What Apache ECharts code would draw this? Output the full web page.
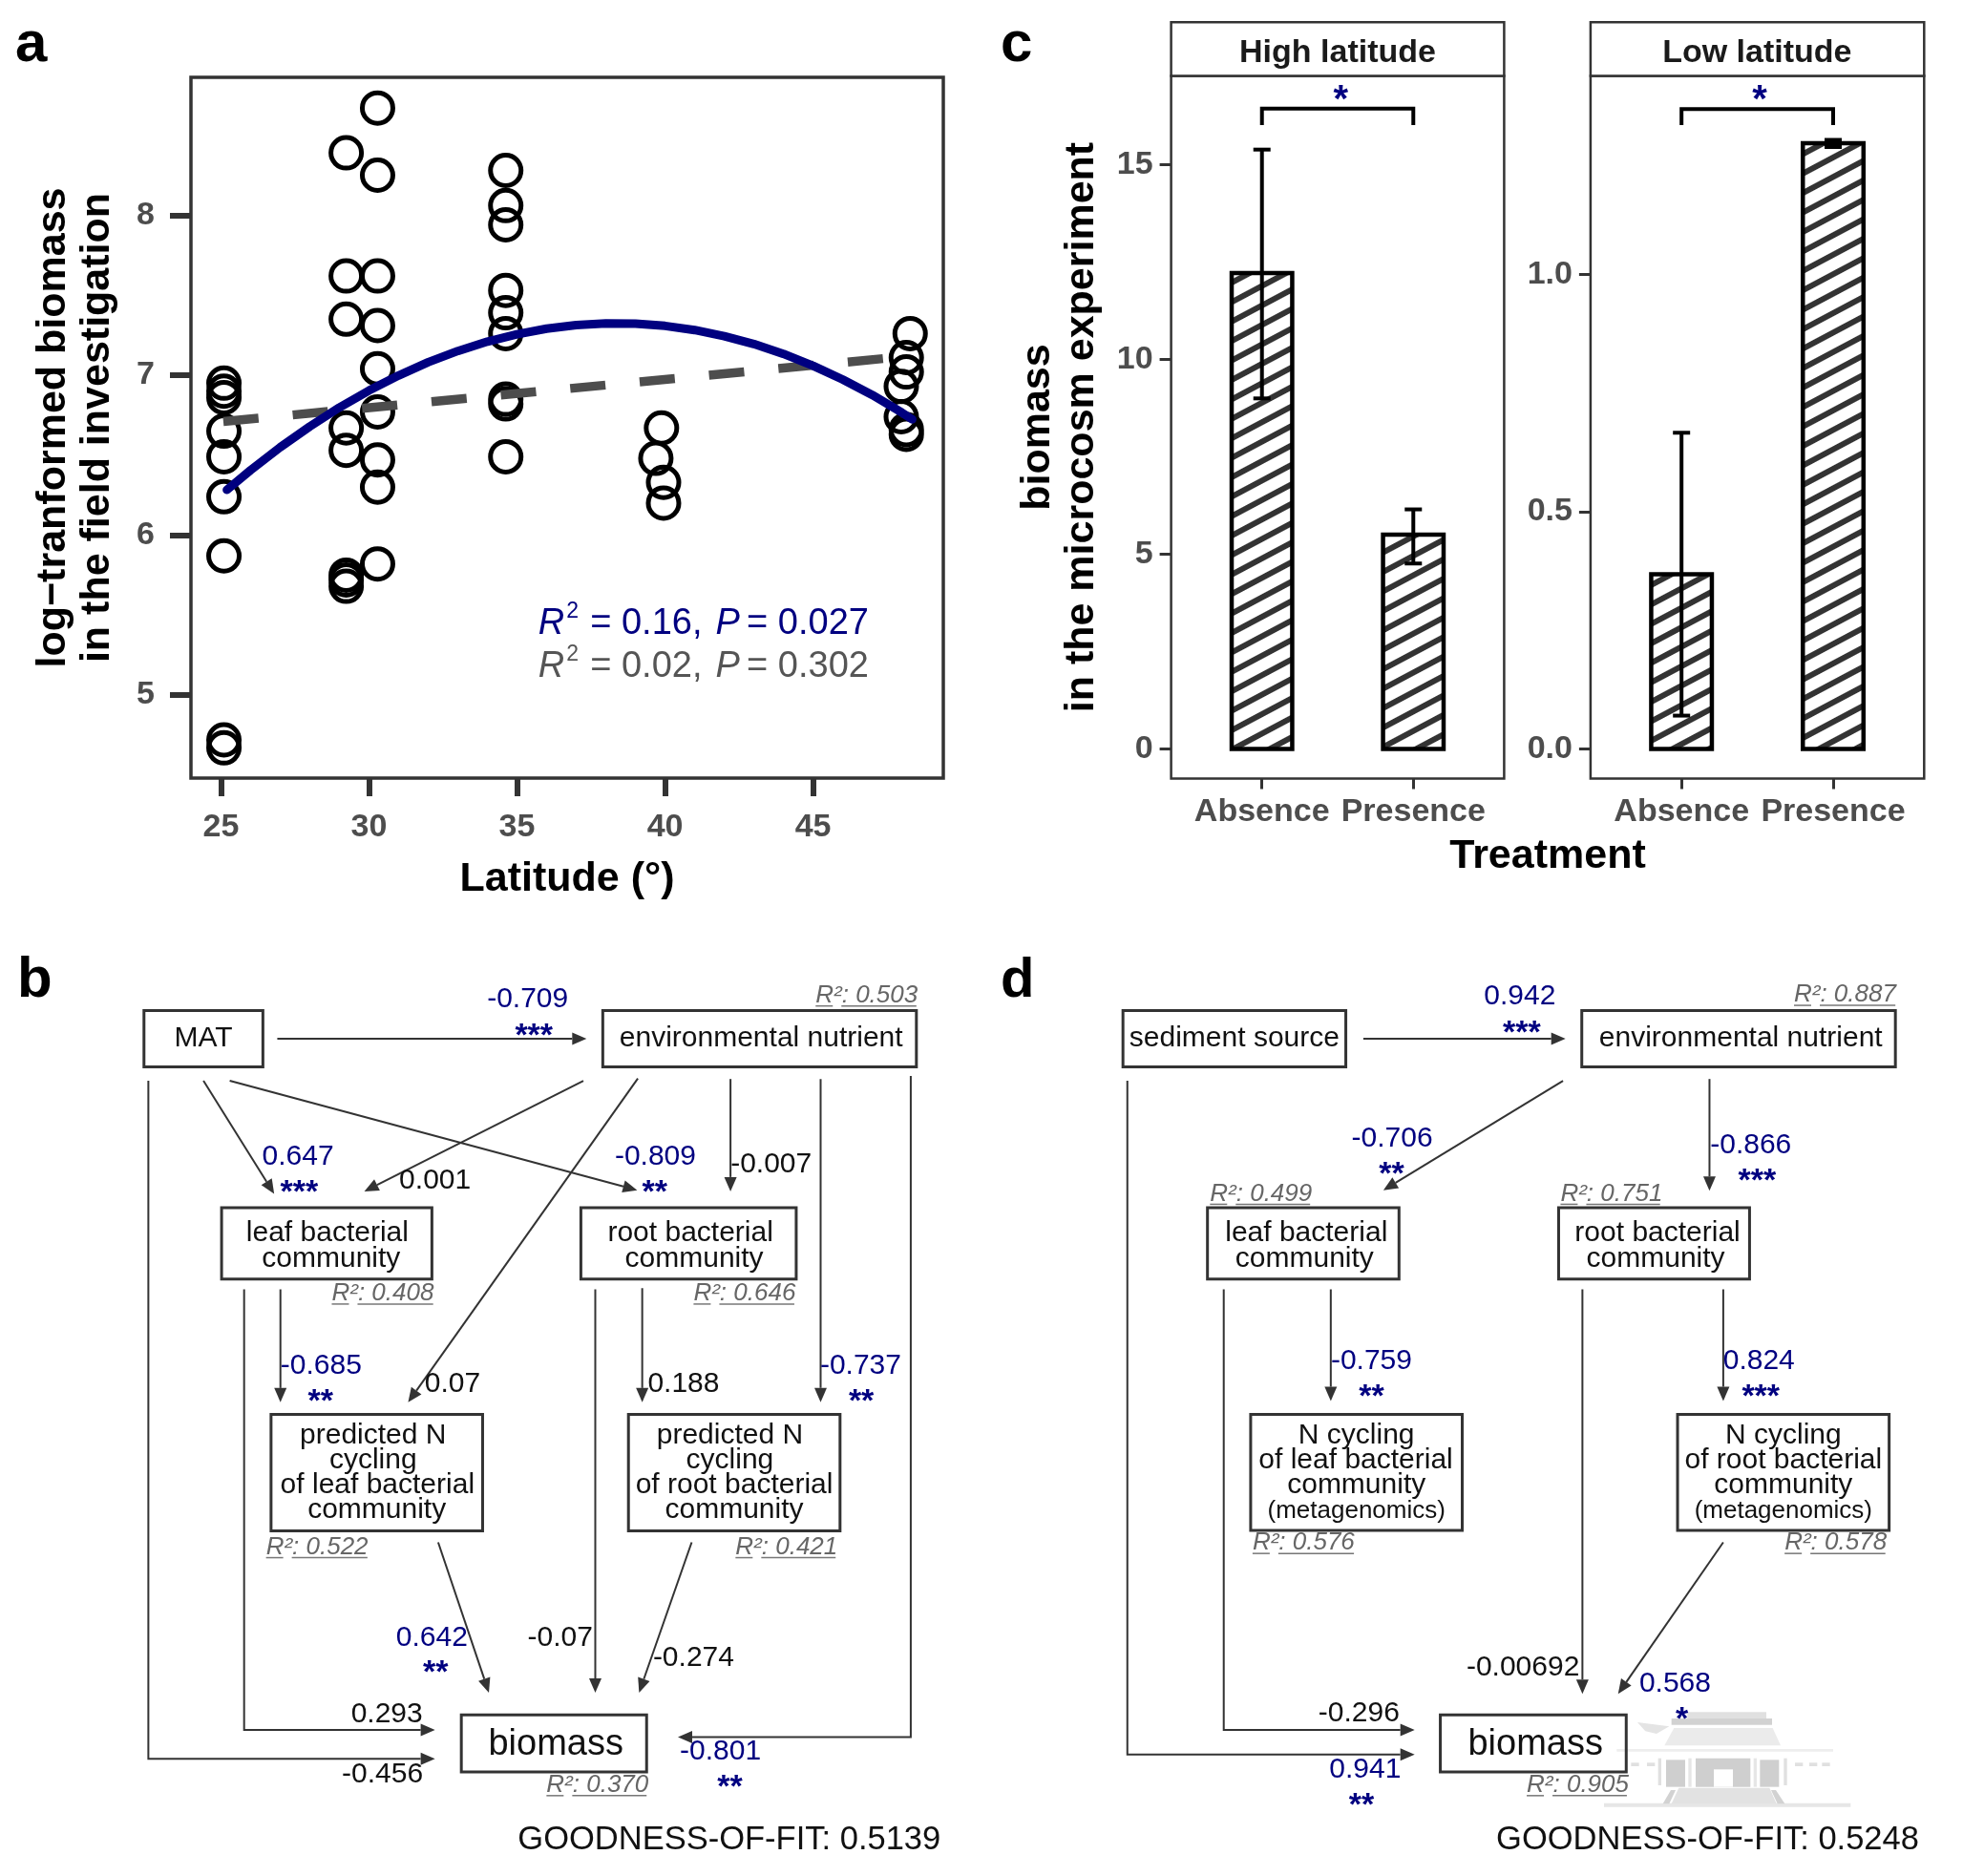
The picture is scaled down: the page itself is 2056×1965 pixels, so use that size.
<!DOCTYPE html>
<html><head><meta charset="utf-8">
<style>html,body{margin:0;padding:0;background:#fff}#c{width:2056px;height:1965px}</style>
<script src="https://cdn.jsdelivr.net/npm/echarts@6/dist/echarts.min.js"></script>
</head><body><div id="c"></div>
<script>
// ---------- panel a data ----------
const scatterLat = [25.1,25.1,25.1,25.1,25.1,25.1,25.1,25.1,25.1,
  29.23,29.23,29.23,29.23,29.23,29.23,29.23,29.23,
  30.29,30.29,30.29,30.29,30.29,30.29,30.29,30.29,30.29,
  34.62,34.62,34.62,34.62,34.62,34.62,34.62,34.62,34.62,
  39.88,39.69,39.95,39.95,
  48.28,48.15,48.15,47.98,47.98,48.15,48.15];
const scatterBiomass = [4.72,4.67,5.87,6.24,6.49,6.65,6.86,6.9,6.95,
  8.39,7.62,7.35,6.67,6.53,5.75,5.72,5.68,
  8.67,8.25,7.62,7.31,7.04,6.77,6.47,6.3,5.82,
  8.28,8.06,7.94,7.53,7.39,7.26,6.85,6.82,6.49,
  6.67,6.48,6.33,6.2,
  7.26,7.11,7.02,6.93,6.74,6.66,6.63];
const curveLat = [25.2,26,27,28,29,30,31,32,33,34,35,36,37,38,39,40,41,42,43,44,45,46,47,48,48.35];
const curveFit = [6.283,6.406,6.549,6.679,6.798,6.904,6.998,7.081,7.151,7.21,7.256,7.291,7.313,7.323,7.322,7.308,7.282,7.244,7.195,7.133,7.059,6.973,6.876,6.766,6.724];
const lineLat = [25.08,48.3];
const lineFit = [6.71,7.12];
const latTicks = [25,30,35,40,45];
const biomassTicks = [5,6,7,8];
// ---------- panel c data ----------
const treatments = ['Absence','Presence'];
const treatmentPos = [1,2];
const highMean = [12.22,5.5];
const highUpper = [15.39,6.15];
const highLower = [9.0,4.76];
const lowMean = [0.368,1.276];
const lowUpper = [0.666,1.283];
const lowLower = [0.07,1.268];
const highTicks = [0,5,10,15];
const lowTicks = [0,0.5,1.0];
const highBracket = [16.02,16.44,16.44,16.02];
const lowBracket = [1.314,1.348,1.348,1.314];
// ---------- panel b / d text ----------
const nodeTextB = [['MAT'],['environmental nutrient'],['leaf bacterial','community'],['root bacterial','community'],
  ['predicted N','cycling','of leaf bacterial','community'],['predicted N','cycling','of root bacterial','community'],['biomass']];
const coefB = ['-0.709','0.647','-0.809','-0.685','-0.737','0.642','-0.801','0.001','-0.007','0.07','0.188','-0.07','-0.274','0.293','-0.456'];
const starsB = ['***','***','**','**','**','**','**','','','','','','','',''];
const r2B = ['0.503','0.408','0.646','0.522','0.421','0.370'];
const fitB = 'GOODNESS-OF-FIT: 0.5139';
const nodeTextD = [['sediment source'],['environmental nutrient'],['leaf bacterial','community'],['root bacterial','community'],
  ['N cycling','of leaf bacterial','community','(metagenomics)'],['N cycling','of root bacterial','community','(metagenomics)'],['biomass']];
const coefD = ['0.942','-0.706','-0.866','-0.759','0.824','0.568','0.941','-0.00692','-0.296'];
const starsD = ['***','**','***','**','***','*','**','',''];
const r2D = ['0.887','0.499','0.751','0.576','0.578','0.905'];
const fitD = 'GOODNESS-OF-FIT: 0.5248';

// ---------- diagram layout (separate from the values), in crop units ----------
const layoutB = {
  ox:0,
  boxes:[[230,123,420,217],[963,123,1464,217],[354,451,690,570],[928,451,1272,570],[433,795,771,989],[1004,795,1342,989],[737,1295,1033,1390]],
  lines:[[[325,170]],[[1216,170]],[[523,494],[529,536]],[[1103,494],[1109,536]],
    [[596,830],[596,872],[603,913],[602,954]],[[1166,830],[1166,872],[1173,913],[1173,954]],[[888,1345]]],
  coefPos:[[843,105,853,160],[476,366,478,420],[1047,366,1046,420],[513,714,512,768],[1375,714,1376,768],[690,1167,696,1220],[1151,1357,1166,1410],
    [695,407],[1232,380],[723,745],[1092,745],[895,1167],[1108,1201],[618,1295],[611,1395]],
  r2Pos:[[1303,1464,98],[530,692,594],[1108,1269,594],[425,587,1016],[1175,1335,1016],[873,1033,1412]],
  arrows:[[[443,170],[937,170]],[[325,240],[438,428]],[[367,240],[1018,422]],[[932,240],[582,424]],[[1019,236],[652,775]],
    [[1167,237],[1167,424]],[[1311,237],[1311,775]],[[448,587],[448,775]],[[1026,585],[1026,775]],[[951,587],[951,1258]],
    [[700,1008],[781,1258]],[[1105,1008],[1021,1258]],[[390,587],[390,1320],[695,1320]],[[237,240],[237,1368],[695,1368]],[[1455,232],[1455,1332],[1083,1332]]],
  fitPos:[1165,1503]
};
const layoutD = {
  ox:1028,
  boxes:[[226,123,582,217],[959,123,1460,217],[361,451,667,570],[922,451,1227,570],[430,795,768,988],[1112,795,1450,988],[733,1295,1030,1390]],
  lines:[[[404,170]],[[1213,170]],[[519,494],[516,536]],[[1080,494],[1077,536]],
    [[599,830],[598,872],[599,913],[599,956]],[[1281,830],[1281,872],[1281,913],[1281,956]],[[885,1345]]],
  coefPos:[[860,100,863,155],[656,337,655,390],[1229,348,1239,402],[623,706,623,760],[1242,706,1245,760],[1108,1244,1119,1298],[613,1387,607,1440],
    [865,1217],[603,1292]],
  r2Pos:[[1298,1460,97],[365,525,428],[925,1084,428],[433,595,1009],[1283,1444,1009],[871,1031,1412]],
  arrows:[[[610,170],[933,170]],[[929,240],[642,422]],[[1163,237],[1163,423]],[[558,587],[558,773]],[[1185,587],[1185,773]],
    [[1185,1008],[1017,1260]],[[960,587],[960,1260]],[[387,587],[387,1320],[692,1320]],[[233,240],[233,1361],[692,1361]]],
  fitPos:[1160,1503]
};
const FONT = '"Liberation Sans", Arial, sans-serif';
const NAVY = '#000080', DARK = '#333333', TICK = '#4d4d4d';
const els = [];
function txt(x,y,t,size,fill,opt){ opt=opt||{};
  const yy = opt.baseline ? y-0.3465*size : y;
  els.push({type:'text',silent:true,z:opt.z||10,style:{x:x,y:yy,text:t,fill:fill||'#000',
    font:(opt.italic?'italic ':'')+(opt.bold?'bold ':'')+size+'px '+FONT,
    align:opt.align||'center',verticalAlign:'middle'}});
}
function rect(x,y,w,h,fill,stroke,lw,z){ els.push({type:'rect',silent:true,z:z||5,shape:{x:x,y:y,width:w,height:h},style:{fill:fill||'#fff',stroke:stroke||null,lineWidth:lw||0}}); }
function poly(pts,fill,z){ els.push({type:'polygon',silent:true,z:z||5,shape:{points:pts},style:{fill:fill}}); }
function seg(a,b,color,lw,z){ els.push({type:'line',silent:true,z:z||6,shape:{x1:a[0],y1:a[1],x2:b[0],y2:b[1]},style:{stroke:color,lineWidth:lw}}); }

function diagram(L,nodeText,coef,stars,r2,fit){
  const fx=v=>v/1.5253+L.ox, fy=v=>v/1.5886+981;
  L.boxes.forEach((b,i)=>{
    rect(fx(b[0]),fy(b[1]),(b[2]-b[0])/1.5253,(b[3]-b[1])/1.5886,'rgba(255,255,255,0)',DARK,3,6);
    nodeText[i].forEach((t,k)=>{
      const p=L.lines[i][k];
      const size = t==='biomass'?38:(t==='(metagenomics)'?26:30);
      txt(fx(p[0]),fy(p[1]),t,size,'#111');
    });
  });
  L.arrows.forEach(a=>{
    const pts=a.map(p=>[fx(p[0]),fy(p[1])]);
    const n=pts.length, e=pts[n-1], s=pts[n-2];
    const dx=e[0]-s[0],dy=e[1]-s[1],d=Math.hypot(dx,dy),ux=dx/d,uy=dy/d;
    const bx=e[0]-ux*15,by=e[1]-uy*15;
    const line=pts.slice(); line[n-1]=[bx,by];
    els.push({type:'polyline',silent:true,z:6,shape:{points:line},style:{stroke:DARK,lineWidth:2,fill:null}});
    poly([e,[bx-uy*6.5,by+ux*6.5],[bx+uy*6.5,by-ux*6.5]],DARK,6);
  });
  coef.forEach((c,i)=>{
    const p=L.coefPos[i], blue=!!stars[i];
    txt(fx(p[0]),fy(p[1]),c,30,blue?NAVY:'#111');
    if(blue) txt(fx(p[2]),fy(p[3])+4,stars[i],34,NAVY,{bold:true});
  });
  r2.forEach((v,i)=>{
    const p=L.r2Pos[i];
    const x0=fx(p[0]),x1=fx(p[1]),y=fy(p[2]);
    txt(x0,y,'R\u00B2: '+v,26,'#666',{italic:true,align:'left'});
    seg([x0,y+11],[x0+18,y+11],'#777',1.5);
    seg([x0+27,y+11],[x1,y+11],'#777',1.5);
  });
  txt(fx(L.fitPos[0]),fy(L.fitPos[1]),fit,34.5,'#111');
}

// watermark (faint) behind panel d
(function(){
  const wx=v=>1680+v/3, wy=v=>1760+v/3, g=(x0,y0,x1,y1,c)=>rect(wx(x0),wy(y0),(x1-x0)/3,(y1-y0)/3,c,null,0,1);
  g(0,386,775,398,'#e6e6e6');
  g(40,216,720,224,'#eeeeee');
  poly([[wx(212),wy(388)],[wx(235),wy(338)],[wx(520),wy(338)],[wx(542),wy(388)]],'#e2e2e2',1);
  poly([[wx(185),wy(388)],[wx(210),wy(345)],[wx(225),wy(345)],[wx(205),wy(388)]],'#d2d2d2',1);
  poly([[wx(568),wy(388)],[wx(540),wy(345)],[wx(525),wy(345)],[wx(545),wy(388)]],'#d2d2d2',1);
  g(195,250,255,335,'#cfcfcf'); g(490,250,550,335,'#cfcfcf'); g(288,245,460,335,'#cfcfcf');
  g(345,280,405,335,'#ffffff'); g(170,245,180,330,'#e0e0e0'); g(265,245,275,335,'#e6e6e6');
  g(470,245,480,335,'#e6e6e6'); g(565,245,575,330,'#e0e0e0');
  poly([[wx(220),wy(150)],[wx(530),wy(150)],[wx(555),wy(205)],[wx(190),wy(205)]],'#ebebeb',1);
  g(212,120,528,140,'#d2d2d2'); g(262,100,510,120,'#e0e0e0');
  poly([[wx(105),wy(132)],[wx(205),wy(145)],[wx(165),wy(168)],[wx(130),wy(160)]],'#e4e4e4',1);
  [85,135,600,645,685].forEach(v=>g(v,259,v+25,270,'#e0e0e0'));
})();

// panel letters
[['a',16,68,60],['c',1048,68,60],['b',18,1048,60],['d',1048,1048,58]].forEach(l=>txt(l[1],l[2],l[0],l[3],'#000',{bold:true,align:'left',baseline:true}));

diagram(layoutB,nodeTextB,coefB,starsB,r2B,fitB);
diagram(layoutD,nodeTextD,coefD,starsD,r2D,fitD);

// panel a annotation
[[667,NAVY,'0.16,','0.027'],[712,'#555555','0.02,','0.302']].forEach(r=>{
  txt(563.8,r[0],'R',38,r[1],{italic:true,align:'left',baseline:true});
  txt(593.3,r[0]-18,'2',23,r[1],{align:'left',baseline:true});
  txt(618.2,r[0],'= '+r[2],38,r[1],{align:'left',baseline:true});
  txt(749.4,r[0],'P',38,r[1],{italic:true,align:'left',baseline:true});
  txt(782.1,r[0],'= '+r[3],38,r[1],{align:'left',baseline:true});
});
// panel c strips, common axis title, significance stars
rect(1226.6,23.3,348.8,56.3,'#fff',DARK,2.5,5);
rect(1665.9,23.3,349.4,56.3,'#fff',DARK,2.5,5);
txt(1401,55.5,'High latitude',34,'#1a1a1a',{bold:true});
txt(1840.3,55.5,'Low latitude',34,'#1a1a1a',{bold:true});
txt(1621,897,'Treatment',43,'#000',{bold:true});
txt(1404.3,106,'*',40,NAVY,{bold:true});
txt(1843,106,'*',40,NAVY,{bold:true});

function axisX(idx,min,max,vals,fmt,size,name,gap,tickLen,tickW,margin){
  return {type:'value',gridIndex:idx,min:min,max:max,splitLine:{show:false},
    axisLine:{show:false,onZero:false},
    axisTick:{show:true,inside:false,length:tickLen,lineStyle:{color:DARK,width:tickW},customValues:vals},
    axisLabel:{show:true,customValues:vals,formatter:fmt,margin:margin,color:TICK,fontFamily:FONT,fontWeight:'bold',fontSize:size},
    name:name,nameLocation:'middle',nameGap:gap,nameTextStyle:{color:'#000',fontFamily:FONT,fontWeight:'bold',fontSize:43}};
}
function axisY(idx,min,max,vals,fmt,name,gap,tickLen,tickW,margin){
  return {type:'value',gridIndex:idx,min:min,max:max,splitLine:{show:false},
    axisLine:{show:false,onZero:false},
    axisTick:{show:true,length:tickLen,lineStyle:{color:DARK,width:tickW},customValues:vals},
    axisLabel:{show:true,customValues:vals,formatter:fmt,margin:margin,color:TICK,fontFamily:FONT,fontWeight:'bold',fontSize:34},
    name:name,nameLocation:'middle',nameGap:gap,nameRotate:90,
    nameTextStyle:{color:'#000',fontFamily:FONT,fontWeight:'bold',fontSize:43,lineHeight:46}};
}
const zip=(a,b)=>a.map((v,i)=>[v,b[i]]);
function errRender(params,api){
  // bar outline (centred on the bar edge) plus the error bar
  const x=api.value(0), lo=api.coord([x,api.value(1)]), hi=api.coord([x,api.value(2)]);
  const top=api.coord([x,api.value(3)]), base=api.coord([x,0]);
  const half=api.size([0.4,0])[0]/2;
  const st={stroke:'#000',lineWidth:4,fill:null};
  const l=(a,b,c,d)=>({type:'line',shape:{x1:a,y1:b,x2:c,y2:d},style:st});
  return {type:'group',children:[
    {type:'rect',shape:{x:top[0]-half,y:top[1],width:half*2,height:base[1]-top[1]},style:{stroke:'#000',lineWidth:4.5,fill:null}},
    l(lo[0],lo[1],hi[0],hi[1]),l(lo[0]-9,lo[1],lo[0]+9,lo[1]),l(hi[0]-9,hi[1],hi[0]+9,hi[1])]};
}
const hatch={symbol:'rect',symbolSize:1,dashArrayX:[1,0],dashArrayY:[6,12],rotation:-Math.PI*28/180,color:DARK};
function barSeries(idx,vals){
  return {type:'bar',xAxisIndex:idx,yAxisIndex:idx,data:zip(treatmentPos,vals),barWidth:63.4,silent:true,
    itemStyle:{color:'#fff',borderWidth:0,decal:hatch}};
}
function errSeries(idx,lo,hi,mean){
  return {type:'custom',xAxisIndex:idx,yAxisIndex:idx,silent:true,renderItem:errRender,z:4,clip:false,
    data:treatmentPos.map((p,i)=>[p,lo[i],hi[i],mean[i]]),encode:{x:0,y:[1,2]}};
}
function bracketSeries(idx,ys){
  return {type:'line',xAxisIndex:idx,yAxisIndex:idx,silent:true,showSymbol:false,symbol:'none',z:4,
    data:zip([1,1,2,2],ys),lineStyle:{color:'#000',width:4,join:'miter'}};
}
const catFmt=v=>treatments[treatmentPos.indexOf(v)];
const chart=echarts.init(document.getElementById('c'),null,{renderer:'canvas',width:2056,height:1965});
chart.setOption({
  animation:false,backgroundColor:'#fff',
  grid:[
    {left:200,top:81,width:788,height:734,show:true,backgroundColor:'#fff',borderColor:DARK,borderWidth:3.5},
    {left:1226.6,top:79.6,width:348.8,height:735.9,show:true,backgroundColor:'#fff',borderColor:DARK,borderWidth:2.5},
    {left:1665.9,top:79.6,width:349.4,height:735.9,show:true,backgroundColor:'#fff',borderColor:DARK,borderWidth:2.5}
  ],
  xAxis:[
    axisX(0,23.986,49.4,latTicks,v=>String(v),34,'Latitude (\u00B0)',85,19,6,35),
    axisX(1,0.4,2.6,treatmentPos,catFmt,34,'',0,11,3,18),
    axisX(2,0.4,2.6,treatmentPos,catFmt,34,'',0,11,3,18)
  ],
  yAxis:[
    axisY(0,4.481,8.862,biomassTicks,v=>String(v),'log\u2212tranformed biomass\nin the field investigation',75,22,6,38),
    axisY(1,-0.763,17.28,highTicks,v=>String(v),'biomass\nin the microcosm experiment',70,12,3,19),
    axisY(2,-0.0626,1.4176,lowTicks,v=>v.toFixed(1),'',0,12,3,19)
  ],
  series:[
    {type:'scatter',xAxisIndex:0,yAxisIndex:0,silent:true,data:zip(scatterLat,scatterBiomass),symbol:'circle',symbolSize:32,
      itemStyle:{color:'rgba(0,0,0,0)',borderColor:'#000',borderWidth:5,opacity:1},z:2},
    {type:'line',xAxisIndex:0,yAxisIndex:0,silent:true,showSymbol:false,symbol:'none',z:3,data:zip(lineLat,lineFit),
      lineStyle:{color:TICK,width:9.5,type:[37,36],cap:'butt'}},
    {type:'line',xAxisIndex:0,yAxisIndex:0,silent:true,showSymbol:false,symbol:'none',z:4,data:zip(curveLat,curveFit),
      lineStyle:{color:NAVY,width:9,cap:'round',join:'round'}},
    barSeries(1,highMean),errSeries(1,highLower,highUpper,highMean),bracketSeries(1,highBracket),
    barSeries(2,lowMean),errSeries(2,lowLower,lowUpper,lowMean),bracketSeries(2,lowBracket)
  ],
  graphic:{elements:els}
});
</script></body></html>
